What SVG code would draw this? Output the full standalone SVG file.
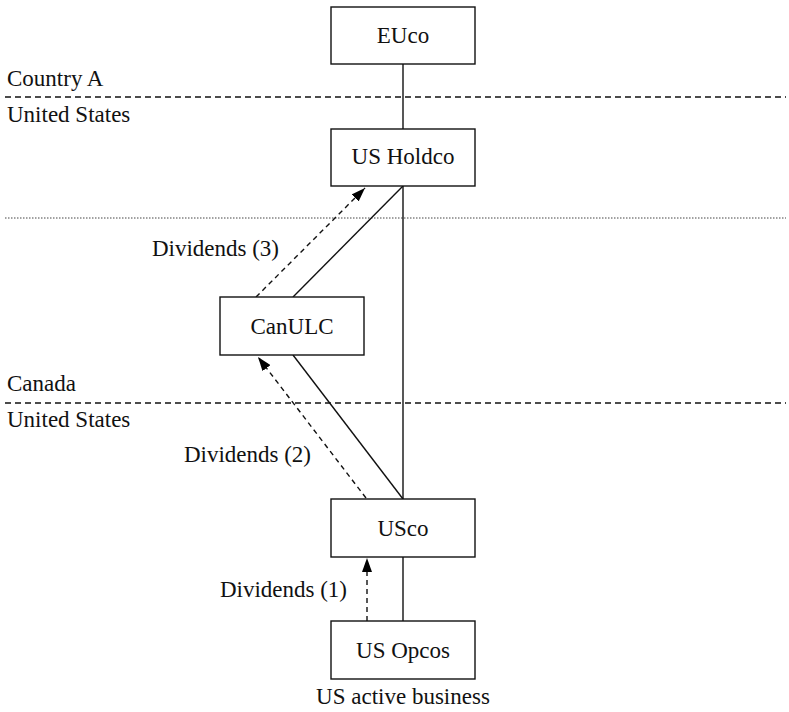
<svg xmlns="http://www.w3.org/2000/svg" width="789" height="712" viewBox="0 0 789 712">
<style>
.box{fill:#fff;stroke:#111;stroke-width:1.4}
.solid{stroke:#111;stroke-width:1.4;fill:none}
.div{stroke:#111;stroke-width:1.4;stroke-dasharray:5,4;fill:none;marker-end:url(#ah)}
.border{stroke:#111;stroke-width:1.3;stroke-dasharray:6,4;fill:none}
.dot{stroke:#444;stroke-width:1;stroke-dasharray:1.5,1.5;fill:none}
</style>
<defs>
<marker id="ah" viewBox="0 0 14 10" refX="14" refY="5" markerWidth="14" markerHeight="10" markerUnits="userSpaceOnUse" orient="auto">
<path d="M0,0 L14,5 L0,10 Z" fill="#000"/>
</marker>
</defs>
<rect width="789" height="712" fill="#fff"/>
<g id="borders">
<line class="border" x1="5" y1="97" x2="786" y2="97"/>
<line class="dot" x1="5" y1="218" x2="786" y2="218"/>
<line class="border" x1="5" y1="403" x2="786" y2="403"/>
<text x="7" y="86" style="font-family:'Liberation Serif';font-size:23px;fill:#111">Country A</text>
<text x="7" y="122" style="font-family:'Liberation Serif';font-size:23px;fill:#111">United States</text>
<text x="7" y="391" style="font-family:'Liberation Serif';font-size:23px;fill:#111">Canada</text>
<text x="7" y="427" style="font-family:'Liberation Serif';font-size:23px;fill:#111">United States</text>
</g>
<g id="connectors">
<line class="solid" x1="403" y1="64" x2="403" y2="129"/>
<line class="solid" x1="403" y1="186" x2="403" y2="499"/>
<line class="solid" x1="403" y1="186" x2="293" y2="297"/>
<line class="solid" x1="293" y1="355" x2="403" y2="499"/>
<line class="solid" x1="403" y1="557" x2="403" y2="621"/>
<line class="div" x1="256" y1="297" x2="365" y2="188"/>
<line class="div" x1="366" y1="498" x2="258" y2="357"/>
<line class="div" x1="367" y1="621" x2="367" y2="558"/>
<text x="279" y="256" style="font-family:'Liberation Serif';font-size:23px;fill:#111;text-anchor:end">Dividends (3)</text>
<text x="311" y="462" style="font-family:'Liberation Serif';font-size:23px;fill:#111;text-anchor:end">Dividends (2)</text>
<text x="347" y="597" style="font-family:'Liberation Serif';font-size:23px;fill:#111;text-anchor:end">Dividends (1)</text>
</g>
<g id="euco">
<rect class="box" x="331" y="7" width="144" height="57"/>
<text x="403" y="43" style="font-family:'Liberation Serif';font-size:23px;fill:#111;text-anchor:middle">EUco</text>
</g>
<g id="usholdco">
<rect class="box" x="331" y="129" width="144" height="57"/>
<text x="403" y="164" style="font-family:'Liberation Serif';font-size:23px;fill:#111;text-anchor:middle">US Holdco</text>
</g>
<g id="canulc">
<rect class="box" x="220" y="297" width="144" height="58"/>
<text x="292" y="334" style="font-family:'Liberation Serif';font-size:23px;fill:#111;text-anchor:middle">CanULC</text>
</g>
<g id="usco">
<rect class="box" x="331" y="499" width="144" height="58"/>
<text x="403" y="536" style="font-family:'Liberation Serif';font-size:23px;fill:#111;text-anchor:middle">USco</text>
</g>
<g id="usopcos">
<rect class="box" x="331" y="621" width="144" height="58"/>
<text x="403" y="658" style="font-family:'Liberation Serif';font-size:23px;fill:#111;text-anchor:middle">US Opcos</text>
<text x="403" y="704" style="font-family:'Liberation Serif';font-size:23px;fill:#111;text-anchor:middle">US active business</text>
</g>
</svg>
